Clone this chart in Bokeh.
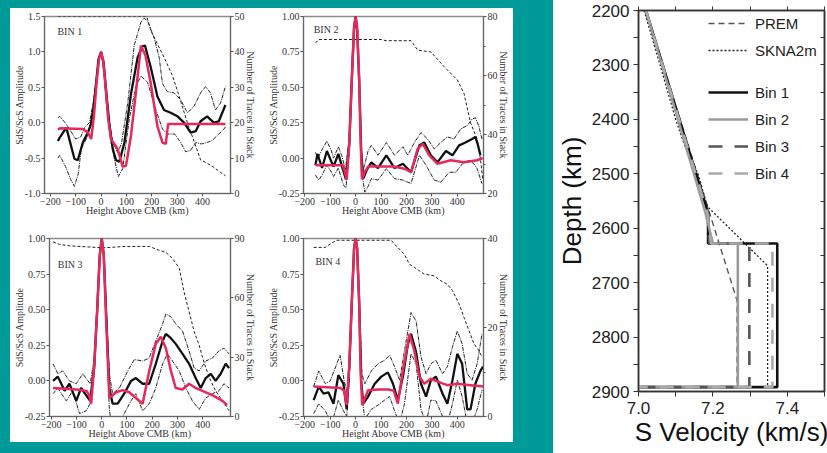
from bokeh.plotting import figure
from bokeh.layouts import row, column
from bokeh.models import (Range1d, LinearAxis, FixedTicker, PrintfTickFormatter,
                          CustomJSTickFormatter, Label, Legend, LegendItem, Spacer)
from bokeh.embed import file_html
from bokeh.resources import INLINE

# ---------------- data: stacked SdS/ScS amplitudes ----------------
# BIN 1
B1_BLACK_H = [-170, -163, -137, -105, -92, -72, -52, -40, -30, -20, -10, 0, 10, 20, 32, 46, 59, 72, 92, 118, 144, 163, 173, 196, 222, 248, 274, 301, 327, 353, 373, 392, 418, 444, 464, 490]
B1_BLACK_A = [-0.26, -0.21, -0.07, -0.51, -0.53, -0.28, -0.14, -0.02, 0.2, 0.55, 0.9, 1.0, 0.85, 0.45, 0.0, -0.37, -0.53, -0.55, -0.28, 0.41, 0.92, 1.08, 1.09, 0.78, 0.37, 0.18, 0.14, 0.09, 0.0, -0.14, -0.12, 0.02, 0.09, 0.0, 0.02, 0.25]
B1_UP_H = [-170, -163, -137, -100, -80, -65, -46, -30, -20, -10, 0, 10, 22, 35, 46, 65, 80, 105, 131, 157, 170, 185, 209, 229, 242, 261, 288, 314, 340, 366, 392, 412, 431, 451, 471, 490]
B1_UP_A = [0.07, 0.09, -0.02, -0.23, -0.2, -0.07, 0.0, 0.3, 0.6, 0.9, 1.0, 0.82, 0.4, -0.05, -0.28, -0.42, -0.3, 0.28, 1.1, 1.42, 1.48, 1.42, 1.2, 0.92, 0.55, 0.44, 0.42, 0.32, 0.14, 0.23, 0.42, 0.51, 0.42, 0.18, 0.28, 0.51]
B1_LO_H = [-170, -163, -140, -120, -105, -90, -78, -52, -38, -25, -12, 0, 10, 20, 35, 46, 68, 85, 111, 137, 157, 183, 216, 242, 261, 290, 314, 333, 353, 373, 395, 418, 438, 464, 484, 490]
B1_LO_A = [-0.5, -0.46, -0.62, -0.8, -0.9, -0.72, -0.37, -0.18, 0.05, 0.38, 0.82, 1.0, 0.75, 0.3, -0.18, -0.41, -0.76, -0.65, 0.05, 0.51, 0.66, 0.57, 0.18, -0.09, -0.16, -0.16, -0.28, -0.41, -0.39, -0.28, -0.3, -0.28, -0.25, -0.16, -0.09, -0.06]
B1_RED_H = [-170, -163, -72, -52, -39, -28, -18, -8, 0, 8, 18, 28, 39, 52, 65, 85, 98, 118, 137, 157, 175, 196, 222, 242, 255, 264, 490]
B1_RED_A = [-0.1, -0.08, -0.09, -0.14, -0.23, 0.1, 0.55, 0.9, 1.0, 0.88, 0.5, 0.05, -0.23, -0.3, -0.37, -0.62, -0.61, -0.18, 0.42, 1.09, 0.95, 0.55, -0.05, -0.28, -0.3, -0.02, -0.02]
B1_N_H = [-170, 180, 196, 248, 281, 301, 340, 370, 392, 420, 444, 470, 490]
B1_N = [50, 50, 46, 38.5, 33.3, 29, 20, 14, 9.5, 8.5, 7.4, 6, 5]

# BIN 2
B2_BLACK_H = [-158, -150, -132, -113, -87, -68, -50, -38, -25, -14, -6, 0, 6, 14, 22, 30, 45, 62, 88, 121, 153, 186, 218, 235, 251, 270, 296, 322, 355, 381, 407, 432, 458, 471, 480, 491]
B2_BLACK_A = [-0.05, 0.03, -0.07, 0.05, -0.06, 0.03, -0.08, -0.15, 0.1, 0.6, 0.92, 1.0, 0.9, 0.55, 0.05, -0.145, -0.08, -0.03, -0.07, 0.02, -0.07, -0.04, -0.1, 0.0, 0.09, 0.11, 0.02, -0.03, 0.05, 0.02, 0.09, 0.11, 0.135, 0.15, 0.1, 0.02]
B2_UP_H = [-158, -148, -135, -113, -95, -87, -68, -55, -40, -25, -14, -6, 0, 6, 14, 23, 35, 49, 62, 88, 121, 153, 186, 205, 231, 257, 283, 309, 335, 361, 387, 413, 439, 458, 471, 484, 497]
B2_UP_A = [0.04, 0.0, 0.05, 0.12, 0.05, 0.0, 0.08, 0.02, -0.08, 0.15, 0.65, 0.93, 1.0, 0.9, 0.5, -0.12, -0.05, 0.05, 0.09, 0.02, 0.11, 0.02, 0.08, 0.02, 0.11, 0.18, 0.135, 0.065, 0.11, 0.15, 0.135, 0.205, 0.23, 0.275, 0.285, 0.23, 0.135]
B2_LO_H = [-158, -145, -132, -113, -95, -87, -68, -48, -38, -25, -14, -6, 0, 6, 14, 24, 36, 49, 62, 88, 121, 153, 186, 218, 251, 277, 309, 335, 368, 394, 420, 446, 465, 478, 497]
B2_LO_A = [-0.12, -0.155, -0.12, -0.05, -0.1, -0.13, -0.07, -0.19, -0.21, 0.05, 0.55, 0.9, 1.0, 0.9, 0.55, -0.1, -0.24, -0.2, -0.145, -0.155, -0.075, -0.145, -0.155, -0.18, 0.02, -0.05, -0.155, -0.17, -0.1, -0.1, -0.04, -0.015, -0.04, -0.075, -0.18]
B2_RED_H = [-158, -50, -42, -35, -25, -14, -6, 0, 6, 14, 20, 25, 35, 49, 150, 192, 218, 244, 264, 290, 322, 374, 426, 478, 500]
B2_RED_A = [-0.05, -0.05, -0.1, -0.15, 0.1, 0.6, 0.93, 1.0, 0.93, 0.55, 0.1, -0.15, -0.1, -0.06, -0.06, -0.075, -0.1, 0.065, 0.1, 0.02, -0.04, -0.015, -0.03, -0.015, 0.0]
B2_N_H = [-158, -145, 100, 120, 218, 244, 296, 348, 400, 426, 452, 478, 491, 500]
B2_N = [71, 72.2, 72.2, 71.8, 71.8, 68.6, 68, 63, 58.5, 54, 44, 38.4, 31.7, 25]

# BIN 3
B3_BLACK_H = [-193, -174, -147, -128, -101, -82, -62, -46, -30, -18, -8, 0, 8, 18, 30, 43, 63, 89, 116, 135, 162, 188, 214, 241, 254, 274, 293, 320, 346, 372, 392, 412, 432, 451, 471, 491, 504]
B3_BLACK_A = [0.0, 0.03, -0.07, -0.02, -0.14, -0.05, -0.1, -0.14, 0.1, 0.5, 0.88, 1.0, 0.88, 0.45, -0.05, -0.16, -0.16, -0.09, 0.0, 0.02, -0.02, -0.02, 0.12, 0.28, 0.33, 0.3, 0.26, 0.19, 0.12, 0.02, -0.05, 0.02, 0.05, 0.0, 0.05, 0.12, 0.09]
B3_UP_H = [-193, -174, -155, -128, -101, -75, -46, -30, -18, -8, 0, 8, 18, 30, 43, 70, 103, 129, 162, 188, 214, 241, 254, 274, 293, 320, 346, 366, 386, 412, 438, 464, 484, 504]
B3_UP_A = [0.12, 0.05, 0.07, 0.0, -0.02, 0.05, -0.02, 0.15, 0.55, 0.9, 1.0, 0.9, 0.5, 0.05, -0.09, -0.05, 0.07, 0.15, 0.14, 0.16, 0.28, 0.4, 0.47, 0.45, 0.4, 0.35, 0.21, 0.09, 0.07, 0.14, 0.16, 0.21, 0.23, 0.19]
B3_LO_H = [-193, -174, -141, -115, -88, -62, -46, -30, -18, -8, 0, 8, 18, 30, 40, 63, 89, 116, 135, 162, 188, 214, 241, 260, 280, 307, 333, 359, 386, 412, 438, 464, 484, 504]
B3_LO_A = [-0.09, -0.05, -0.14, -0.07, -0.23, -0.21, -0.16, 0.05, 0.45, 0.86, 1.0, 0.86, 0.4, -0.2, -0.32, -0.32, -0.23, -0.14, -0.09, -0.21, -0.16, -0.05, 0.12, 0.19, 0.14, 0.07, -0.05, -0.14, -0.2, -0.12, -0.09, -0.07, -0.02, -0.05]
B3_RED_H = [-193, -100, -60, -50, -42, -30, -18, -8, 0, 8, 18, 30, 57, 83, 109, 135, 162, 188, 214, 234, 254, 274, 293, 320, 346, 372, 399, 438, 478, 497]
B3_RED_A = [-0.05, -0.06, -0.07, -0.1, -0.16, 0.1, 0.5, 0.88, 1.0, 0.88, 0.4, -0.12, -0.08, -0.065, -0.08, -0.12, -0.16, 0.07, 0.26, 0.31, 0.23, 0.07, -0.05, -0.06, -0.02, -0.05, -0.07, -0.1, -0.14, -0.17]
B3_N_H = [-193, -167, -128, -62, 4, 96, 188, 228, 254, 280, 307, 326, 346, 366, 386, 399, 412, 432, 451, 478, 504]
B3_N = [88.3, 87, 86.3, 85.8, 85.3, 86, 86, 84, 83, 80, 75, 63, 53, 43, 36, 30, 24.6, 18, 13, 8, 3]

# BIN 4
B4_BLACK_H = [-165, -145, -126, -107, -87, -68, -48, -35, -25, -14, -6, 0, 6, 14, 22, 30, 49, 75, 101, 127, 147, 166, 186, 205, 218, 238, 257, 277, 296, 316, 342, 361, 381, 400, 419, 439, 452, 471, 491, 501]
B4_BLACK_A = [-0.135, -0.04, -0.09, -0.08, -0.16, 0.04, -0.02, -0.2, 0.1, 0.6, 0.93, 1.0, 0.93, 0.55, 0.0, -0.16, -0.11, -0.02, 0.03, 0.06, -0.02, -0.135, 0.03, 0.25, 0.33, 0.2, -0.02, -0.11, 0.005, 0.03, -0.09, -0.16, 0.005, 0.19, 0.12, -0.2, -0.2, -0.02, 0.07, 0.1]
B4_UP_H = [-165, -145, -119, -100, -74, -61, -45, -30, -22, -14, -6, 0, 6, 14, 25, 36, 62, 88, 114, 134, 153, 173, 192, 218, 238, 257, 277, 296, 316, 342, 361, 381, 400, 419, 439, 458, 478, 497]
B4_UP_A = [-0.04, 0.07, -0.02, 0.0, 0.12, 0.18, 0.0, -0.1, 0.2, 0.62, 0.93, 1.0, 0.93, 0.6, 0.05, -0.02, 0.07, 0.12, 0.145, 0.18, 0.1, 0.005, 0.21, 0.48, 0.42, 0.17, 0.05, 0.12, 0.145, 0.05, 0.1, 0.24, 0.35, 0.26, 0.05, 0.005, 0.12, 0.33]
B4_LO_H = [-165, -145, -119, -94, -68, -48, -35, -25, -14, -6, 0, 6, 14, 25, 36, 62, 88, 114, 134, 153, 173, 192, 218, 238, 257, 277, 296, 316, 342, 361, 381, 400, 419, 439, 458, 478, 497]
B4_LO_A = [-0.23, -0.16, -0.21, -0.3, -0.135, -0.21, -0.25, 0.0, 0.55, 0.9, 1.0, 0.9, 0.5, -0.1, -0.27, -0.2, -0.17, -0.135, -0.11, -0.21, -0.3, -0.16, 0.19, 0.12, -0.2, -0.3, -0.135, -0.14, -0.25, -0.3, -0.16, 0.005, -0.11, -0.3, -0.3, -0.2, -0.065]
B4_RED_H = [-165, -60, -45, -35, -25, -14, -6, 0, 6, 14, 20, 26, 49, 88, 130, 150, 166, 186, 212, 231, 251, 270, 296, 322, 361, 400, 452, 504]
B4_RED_A = [-0.04, -0.05, -0.07, -0.17, 0.1, 0.6, 0.93, 1.0, 0.93, 0.55, 0.05, -0.17, -0.065, -0.06, -0.06, -0.07, -0.16, 0.075, 0.33, 0.21, 0.03, -0.02, 0.015, -0.005, -0.03, -0.02, -0.03, -0.04]
B4_N_H = [-165, -119, -94, -74, 140, 153, 166, 192, 212, 231, 270, 309, 335, 361, 381, 407, 426, 446, 465, 484, 497]
B4_N = [38, 38, 39, 39.6, 39.6, 38.7, 38, 36.4, 34.2, 33.5, 32, 31.6, 30.5, 29.7, 28.3, 25.3, 22.3, 19.3, 16.4, 14.9, 13.4]

# axis ticks
X_TICKS = [-200, -100, 0, 100, 200, 300, 400]
B1_Y_TICKS = [-1.0, -0.5, 0.0, 0.5, 1.0, 1.5]
Y_TICKS = [-0.25, 0.0, 0.25, 0.5, 0.75, 1.0]
B1_N_TICKS = [0, 10, 20, 30, 40, 50]
B2_N_TICKS = [20, 40, 60, 80]
B3_N_TICKS = [0, 30, 60, 90]
B4_N_TICKS = [0, 20, 40]

# ---------------- data: velocity models ----------------
BIN_DEPTH = [2200, 2572, 2628, 2628, 2892, 2892]
BIN1_VS = [7.02, 7.187, 7.187, 7.373, 7.373, 6.5]
BIN2_VS = [7.02, 7.18, 7.20, 7.267, 7.267, 6.5]
BIN3_VS = [7.02, 7.187, 7.19, 7.298, 7.298, 6.5]
BIN4_VS = [7.02, 7.185, 7.195, 7.36, 7.36, 6.5]
PREM_DEPTH = [2200, 2733, 2892, 2892]
PREM_VS = [7.02, 7.265, 7.265, 6.5]
SKNA_DEPTH = [2200, 2300, 2400, 2450, 2500, 2560, 2669, 2892, 2892]
SKNA_VS = [7.015, 7.058, 7.10, 7.125, 7.16, 7.185, 7.347, 7.347, 6.5]
DEPTH_TICKS = [2200, 2300, 2400, 2500, 2600, 2700, 2800, 2900]
DEPTH_MINOR = [2250, 2350, 2450, 2550, 2650, 2750, 2850]
VEL_TICKS = [7.0, 7.2, 7.4]
VEL_MINOR = [7.1, 7.3, 7.5]

TEAL = "#009a98"
RED = "#e42a5c"
SERIF = "Liberation Serif"
SANS = "Liberation Sans"
TXT = "#333333"


def panel(title, w, h, bl, br, bt, bb, xr, yr, nr, yticks, yfmt, nticks, nminor,
          black, up, lo, red, ntr, title_xy):
    p = figure(width=w, height=h, x_range=Range1d(*xr), y_range=Range1d(*yr),
               output_backend="svg", toolbar_location=None,
               min_border_left=bl, min_border_right=br, min_border_top=bt, min_border_bottom=bb,
               background_fill_color="white", border_fill_color="white")
    p.xgrid.visible = False
    p.ygrid.visible = False
    p.outline_line_color = "#8c8c8c"
    p.outline_line_width = 1.5
    p.extra_y_ranges = {"n": Range1d(*nr)}
    ax_b = p.xaxis[0]
    ax_l = p.yaxis[0]
    ax_r = LinearAxis(y_range_name="n")
    p.add_layout(ax_r, "right")
    for ax in (ax_b, ax_l, ax_r):
        ax.major_label_text_font = SERIF
        ax.major_label_text_font_size = "10px"
        ax.major_label_text_color = TXT
        ax.axis_label_text_font = SERIF
        ax.axis_label_text_font_size = "10px"
        ax.axis_label_text_font_style = "normal"
        ax.axis_label_text_color = TXT
        ax.axis_line_color = "#666666"
        ax.major_tick_line_color = "#555555"
        ax.minor_tick_line_color = "#555555"
        ax.major_tick_in = 0
        ax.major_tick_out = 3
        ax.minor_tick_in = 0
        ax.minor_tick_out = 2
        ax.major_label_standoff = 1
        ax.axis_label_standoff = -3
    ax_b.axis_label = "Height Above CMB (km)"
    ax_l.axis_label = "SdS/ScS Amplitude"
    ax_r.axis_label = "Number of Traces in Stack"
    ax_b.ticker = FixedTicker(ticks=X_TICKS, minor_ticks=[])
    ax_l.ticker = FixedTicker(ticks=yticks, minor_ticks=[])
    ax_l.formatter = PrintfTickFormatter(format=yfmt)
    ax_r.ticker = FixedTicker(ticks=nticks, minor_ticks=nminor)

    p.line(ntr[0], ntr[1], y_range_name="n", line_color="#222222", line_width=1.0, line_dash="3 2")
    p.line(up[0], up[1], line_color="#222222", line_width=1.0, line_dash="4 1 1 1")
    p.line(lo[0], lo[1], line_color="#222222", line_width=1.0, line_dash="4 1 1 1")
    p.line(black[0], black[1], line_color="#111111", line_width=2.3)
    p.line(red[0], red[1], line_color=RED, line_width=2.5)

    p.add_layout(Label(x=title_xy[0], y=title_xy[1], text=title, text_font=SERIF,
                       text_font_size="10px", text_color=TXT, text_baseline="middle"))
    return p


f1 = panel("BIN 1", 254, 222, 33, 34, 8, 37, (-223, 510), (-1.0, 1.5), (0, 50),
           B1_Y_TICKS, "%.1f", B1_N_TICKS, [],
           (B1_BLACK_H, B1_BLACK_A), (B1_UP_H, B1_UP_A), (B1_LO_H, B1_LO_A),
           (B1_RED_H, B1_RED_A), (B1_N_H, B1_N), (-172, 1.29))
f2 = panel("BIN 2", 249, 222, 38, 30, 7, 35, (-205, 503), (-0.25, 1.0), (20, 80),
           Y_TICKS, "%.2f", B2_N_TICKS, [30, 50, 70],
           (B2_BLACK_H, B2_BLACK_A), (B2_UP_H, B2_UP_A), (B2_LO_H, B2_LO_A),
           (B2_RED_H, B2_RED_A), (B2_N_H, B2_N), (-165, 0.91))
f3 = panel("BIN 3", 254, 212, 36, 34, 8, 25, (-207, 510), (-0.25, 1.0), (0, 90),
           Y_TICKS, "%.2f", B3_N_TICKS, [],
           (B3_BLACK_H, B3_BLACK_A), (B3_UP_H, B3_UP_A), (B3_LO_H, B3_LO_A),
           (B3_RED_H, B3_RED_A), (B3_N_H, B3_N), (-174, 0.82))
f4 = panel("BIN 4", 249, 212, 38, 30, 8, 26, (-205, 503), (-0.25, 1.0), (0, 40),
           Y_TICKS, "%.2f", B4_N_TICKS, [10, 30],
           (B4_BLACK_H, B4_BLACK_A), (B4_UP_H, B4_UP_A), (B4_LO_H, B4_LO_A),
           (B4_RED_H, B4_RED_A), (B4_N_H, B4_N), (-158, 0.84))

# ---------------- depth profile ----------------
d = figure(width=274, height=453, x_range=Range1d(7.0, 7.5), y_range=Range1d(2900, 2200),
           output_backend="svg", toolbar_location=None,
           min_border_left=80, min_border_right=3, min_border_top=10, min_border_bottom=62,
           background_fill_color="white", border_fill_color="white")
d.xgrid.visible = False
d.ygrid.visible = False
d.outline_line_color = "#333333"
d.outline_line_width = 1.5
ax_bot = d.xaxis[0]
ax_left = d.yaxis[0]
ax_bot.ticker = FixedTicker(ticks=VEL_TICKS, minor_ticks=VEL_MINOR)
ax_bot.formatter = PrintfTickFormatter(format="%.1f")
ax_left.ticker = FixedTicker(ticks=DEPTH_TICKS, minor_ticks=DEPTH_MINOR)
ax_bot.axis_label = "S Velocity (km/s)"
ax_left.axis_label = "Depth (km)"
blank = CustomJSTickFormatter(code="return ''")
ax_top = LinearAxis(ticker=FixedTicker(ticks=VEL_TICKS, minor_ticks=VEL_MINOR), formatter=blank)
ax_right = LinearAxis(ticker=FixedTicker(ticks=DEPTH_TICKS, minor_ticks=DEPTH_MINOR), formatter=blank)
d.add_layout(ax_top, "above")
d.add_layout(ax_right, "right")
for ax in (ax_bot, ax_left, ax_top, ax_right):
    ax.major_label_text_font = SANS
    ax.major_label_text_font_size = "17px"
    ax.major_label_text_color = "#222222"
    ax.axis_label_text_font = SANS
    ax.axis_label_text_font_size = "26px"
    ax.axis_label_text_font_style = "normal"
    ax.axis_label_text_color = "#111111"
    ax.axis_line_color = "#333333"
    ax.axis_line_width = 1.5
    ax.major_tick_line_color = "#333333"
    ax.minor_tick_line_color = "#333333"
    ax.major_tick_in = 0
    ax.major_tick_out = 5
    ax.minor_tick_in = 0
    ax.minor_tick_out = 5
    ax.major_label_standoff = 4
    ax.axis_label_standoff = 2
for ax in (ax_top, ax_right):
    ax.major_label_text_font_size = "1px"
    ax.major_label_standoff = 0
ax_top.major_tick_out = 4
ax_top.minor_tick_out = 4
ax_right.major_tick_out = 0
ax_right.minor_tick_out = 0
ax_right.major_tick_in = 4
ax_right.minor_tick_in = 4
ax_bot.major_label_standoff = 5
ax_bot.axis_label_standoff = 0

r_prem = d.line(PREM_VS, PREM_DEPTH, line_color="#555555", line_width=1.4, line_dash="6 4")
r_skna = d.line(SKNA_VS, SKNA_DEPTH, line_color="#222222", line_width=1.3, line_dash="2 2")
r_b1 = d.line(BIN1_VS, BIN_DEPTH, line_color="#111111", line_width=2.6)
r_b2 = d.line(BIN2_VS, BIN_DEPTH, line_color="#9a9a9a", line_width=2.6)
r_b3 = d.line(BIN3_VS, BIN_DEPTH, line_color="#555555", line_width=2.6, line_dash="14 12")
r_b4 = d.line(BIN4_VS, BIN_DEPTH, line_color="#aaaaaa", line_width=2.6, line_dash="14 12")

fh_d = 453 - 10 - 62
leg1 = Legend(items=[LegendItem(label="PREM", renderers=[r_prem]),
                     LegendItem(label="SKNA2m", renderers=[r_skna])],
              location=(70, fh_d - 3 - 47))
leg2 = Legend(items=[LegendItem(label="Bin 1", renderers=[r_b1]),
                     LegendItem(label="Bin 2", renderers=[r_b2]),
                     LegendItem(label="Bin 3", renderers=[r_b3]),
                     LegendItem(label="Bin 4", renderers=[r_b4])],
              location=(70, fh_d - 72 - 101))
for lg in (leg1, leg2):
    lg.padding = 0
    lg.margin = 0
    lg.spacing = 7
    lg.glyph_width = 40
    lg.glyph_height = 20
    lg.label_height = 20
    lg.label_standoff = 7
    lg.label_text_font = SANS
    lg.label_text_font_size = "15px"
    lg.label_text_color = "#222222"
    lg.background_fill_alpha = 0
    lg.border_line_alpha = 0
    d.add_layout(lg)

# ---------------- page layout ----------------
teal = {"background-color": TEAL}
left_block = column(
    Spacer(width=503, height=8, styles=teal),
    row(f1, f2),
    row(f3, f4),
    Spacer(width=503, height=11, styles=teal),
)
page = row(
    Spacer(width=10, height=453, styles=teal),
    left_block,
    Spacer(width=40, height=453, styles=teal),
    d,
)

open("out.html", "w").write(file_html(page, INLINE, title="SdS/ScS stacks and velocity models"))
